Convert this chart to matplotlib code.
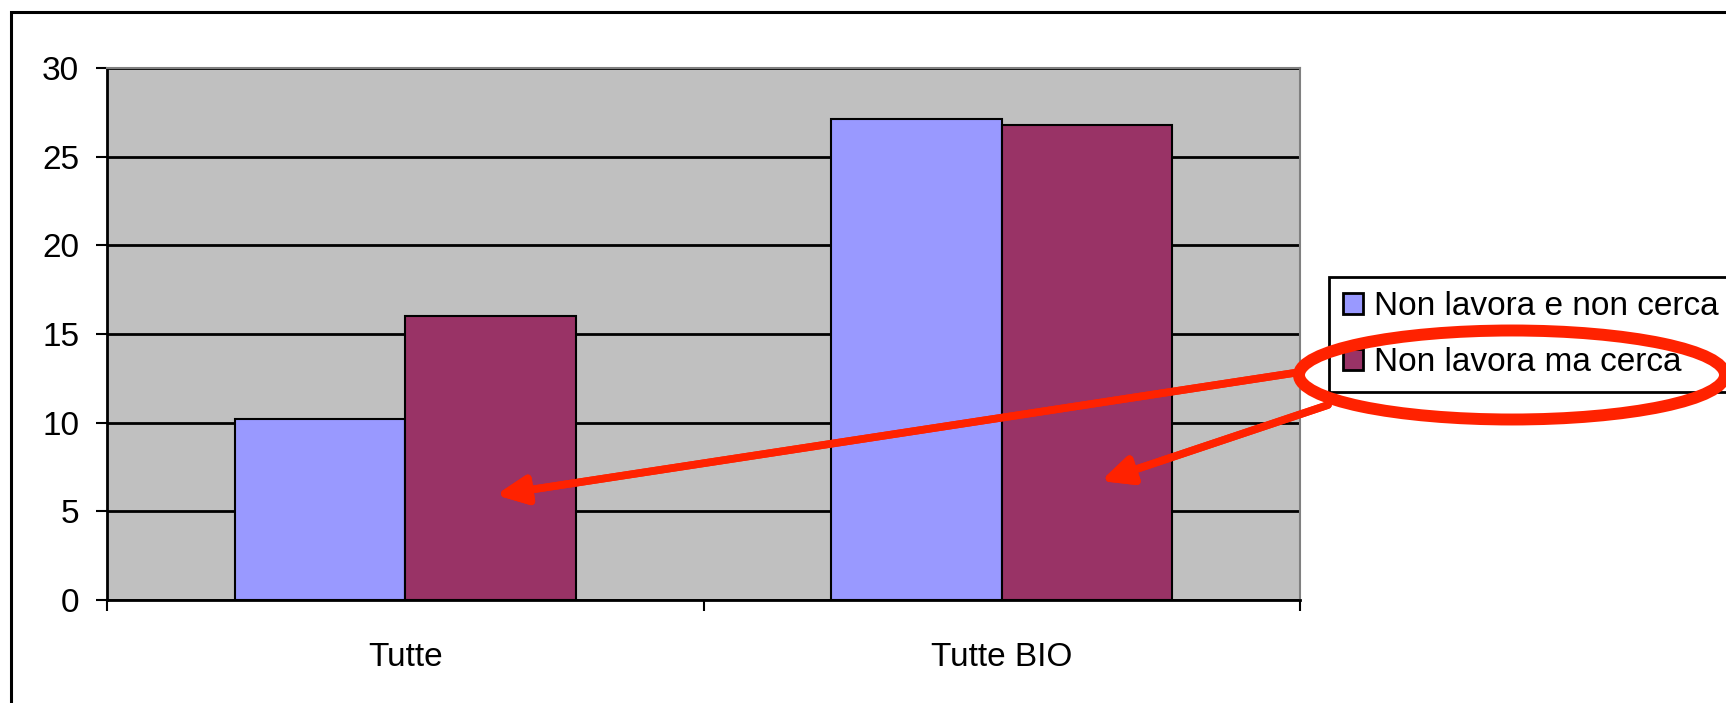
import matplotlib.pyplot as plt
from matplotlib.patches import Ellipse, Rectangle

categories = ['Tutte', 'Tutte BIO']
series_names = ['Non lavora e non cerca', 'Non lavora ma cerca']
non_cerca = [10.2, 27.1]
ma_cerca = [16.0, 26.8]
yticks = [0, 5, 10, 15, 20, 25, 30]

W, H = 1726, 703
plt.rcParams['font.family'] = ['Liberation Sans', 'DejaVu Sans']

fig = plt.figure(figsize=(W / 100, H / 100), dpi=100)


def fx(x):
    return x / W


def fy(y):
    return 1 - y / H


ax = fig.add_axes([fx(107), fy(600), fx(1300) - fx(107), fy(68) - fy(600)])
ax.set_facecolor('#C0C0C0')

width = 0.286
xs = range(len(categories))
ax.bar([x - width / 2 for x in xs], non_cerca, width, color='#9999FF',
       edgecolor='black', linewidth=1.5, label=series_names[0], zorder=3)
ax.bar([x + width / 2 for x in xs], ma_cerca, width, color='#993366',
       edgecolor='black', linewidth=1.5, label=series_names[1], zorder=3)

ax.set_xlim(-0.5, len(categories) - 0.5)
ax.set_ylim(0, 30)
ax.set_yticks(yticks)
ax.tick_params(axis='y', labelsize=24, length=8, width=1.5, pad=12)
ax.set_xticks(list(xs), categories)
ax.set_xticks([-0.5, 0.5, 1.5], minor=True)
ax.tick_params(axis='x', which='major', length=0, labelsize=24, pad=30)
ax.tick_params(axis='x', which='minor', length=8, width=1.5)
ax.yaxis.grid(True, color='black', linewidth=2)
ax.set_axisbelow(True)
for side in ['left', 'bottom']:
    ax.spines[side].set_linewidth(2)
for side in ['top', 'right']:
    ax.spines[side].set_color('#808080')
    ax.spines[side].set_linewidth(1.5)

leg = fig.legend(loc='upper left', bbox_to_anchor=(fx(1329), fy(277)),
                 fontsize=24, frameon=True, fancybox=False, framealpha=1,
                 edgecolor='black', handlelength=0.6, handleheight=0.6,
                 handletextpad=0.33, borderpad=0.42, labelspacing=0.75,
                 borderaxespad=0)
leg.get_frame().set_linewidth(2)
for h in leg.legend_handles:
    h.set_linewidth(2)

# outer frame of the chart
fig.patches.append(Rectangle((fx(10.5), fy(800)), 1.2, fy(12) - fy(800),
                             transform=fig.transFigure, fill=False,
                             edgecolor='black', linewidth=2.2, zorder=0))

# red annotation
red = '#FF2200'
fig.patches.append(Ellipse((fx(1512), fy(375)), fx(426), 89 / H,
                           transform=fig.transFigure, fill=False,
                           edgecolor=red, linewidth=8.6, zorder=10))
arrow_style = dict(arrowstyle='-|>,head_length=0.9,head_width=0.42', color=red,
                   lw=5.5, mutation_scale=20, shrinkA=0, shrinkB=0)
fig.add_artist(plt.annotate('', xy=(fx(496), fy(495)), xytext=(fx(1294), fy(373)),
                            xycoords='figure fraction', textcoords='figure fraction',
                            arrowprops=arrow_style))
fig.add_artist(plt.annotate('', xy=(fx(1101), fy(481)), xytext=(fx(1328), fy(405)),
                            xycoords='figure fraction', textcoords='figure fraction',
                            arrowprops=arrow_style))

fig.savefig('out.png', dpi=100)
